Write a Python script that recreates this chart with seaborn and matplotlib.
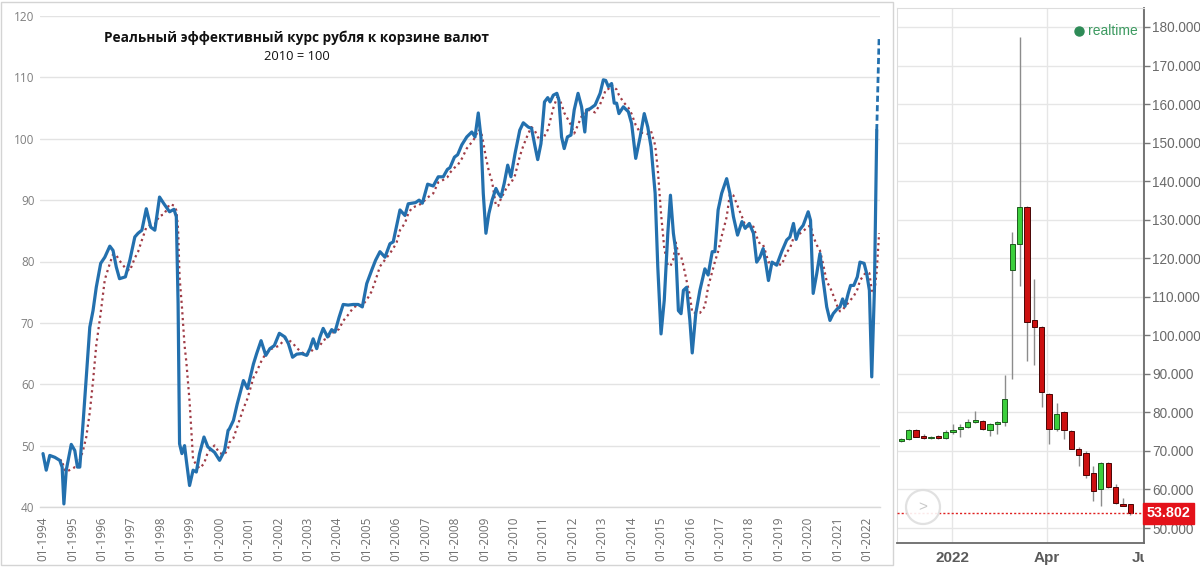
import numpy as np
import pandas as pd
import matplotlib
matplotlib.use("Agg")
import matplotlib.pyplot as plt
import seaborn as sns
from matplotlib.patches import Rectangle, Ellipse
from matplotlib.transforms import Bbox, blended_transform_factory

# ---------------- data: real effective ruble rate (2010 = 100) ----------------
reer_years = [
    1994.00, 1994.11, 1994.23, 1994.40, 1994.57, 1994.65, 1994.71, 1994.79, 1994.96,
    1995.08, 1995.17, 1995.25, 1995.36, 1995.47, 1995.59, 1995.70, 1995.81, 1995.96,
    1996.10, 1996.27, 1996.38, 1996.49, 1996.60, 1996.80, 1996.95,
    1997.12, 1997.23, 1997.36, 1997.51, 1997.66, 1997.80, 1997.96,
    1998.11, 1998.30, 1998.45, 1998.53, 1998.59, 1998.64, 1998.72, 1998.81, 1998.87, 1998.98,
    1999.10, 1999.21, 1999.32, 1999.47, 1999.60, 1999.83,
    2000.00, 2000.17, 2000.29, 2000.33, 2000.47, 2000.60, 2000.81, 2000.95,
    2001.15, 2001.26, 2001.41, 2001.57, 2001.71, 2001.86,
    2002.03, 2002.22, 2002.34, 2002.48, 2002.62, 2002.79, 2002.96,
    2003.07, 2003.18, 2003.30, 2003.41, 2003.52, 2003.67, 2003.81, 2003.92,
    2004.06, 2004.20, 2004.37, 2004.54, 2004.71, 2004.85,
    2005.00, 2005.17, 2005.30, 2005.45, 2005.62, 2005.79, 2005.90,
    2006.02, 2006.13, 2006.30, 2006.41, 2006.53, 2006.66, 2006.78, 2006.89,
    2007.07, 2007.26, 2007.43, 2007.60, 2007.74, 2007.83, 2007.98,
    2008.09, 2008.23, 2008.40, 2008.57, 2008.68, 2008.79, 2008.88, 2008.96,
    2009.05, 2009.15, 2009.26, 2009.39, 2009.47, 2009.56, 2009.67, 2009.79, 2009.90,
    2010.04, 2010.20, 2010.32, 2010.49, 2010.60, 2010.72, 2010.81, 2010.92,
    2011.04, 2011.15, 2011.23, 2011.34, 2011.46, 2011.53, 2011.62, 2011.71, 2011.82, 2011.94,
    2012.05, 2012.18, 2012.30, 2012.41, 2012.47, 2012.59, 2012.76, 2012.93,
    2013.04, 2013.12, 2013.21, 2013.32, 2013.41, 2013.49, 2013.57, 2013.72, 2013.89,
    2014.00, 2014.14, 2014.29, 2014.43, 2014.55, 2014.66, 2014.80, 2014.89,
    2015.00, 2015.11, 2015.23, 2015.32, 2015.42, 2015.50, 2015.59, 2015.68, 2015.76, 2015.87, 2015.98,
    2016.06, 2016.18, 2016.32, 2016.49, 2016.60, 2016.74, 2016.83, 2016.94,
    2017.06, 2017.23, 2017.34, 2017.46, 2017.60, 2017.75, 2017.86,
    2018.00, 2018.14, 2018.25, 2018.36, 2018.47, 2018.56, 2018.65, 2018.77, 2018.93,
    2019.10, 2019.27, 2019.38, 2019.50, 2019.59, 2019.70, 2019.83,
    2020.00, 2020.08, 2020.17, 2020.29, 2020.40, 2020.51, 2020.63, 2020.74, 2020.85, 2020.99,
    2021.08, 2021.17, 2021.25, 2021.36, 2021.44, 2021.55, 2021.67, 2021.76, 2021.90, 2021.99,
    2022.08, 2022.16, 2022.25, 2022.33,
]
reer_values = [
    48.7, 46.0, 48.4, 48.1, 47.6, 46.5, 40.5, 46.0, 50.2,
    49.2, 46.5, 46.5, 53.6, 61.2, 69.3, 72.0, 75.8, 79.7,
    80.7, 82.5, 81.8, 79.1, 77.2, 77.5, 80.2,
    84.0, 84.6, 85.1, 88.6, 85.6, 85.1, 90.5,
    89.4, 88.1, 88.5, 87.3, 73.2, 50.3, 48.7, 50.0, 47.6, 43.5,
    46.0, 45.7, 48.7, 51.4, 49.8, 48.9,
    47.6, 49.2, 52.5, 52.7, 54.1, 56.8, 60.6, 59.3,
    63.3, 65.0, 67.1, 64.7, 65.8, 66.3,
    68.3, 67.7, 66.6, 64.4, 64.9, 65.0, 64.7,
    65.8, 67.4, 65.8, 67.7, 69.1, 67.7, 68.9, 68.5,
    70.9, 73.0, 72.9, 73.0, 73.0, 72.6,
    76.4, 78.6, 80.2, 81.6, 80.7, 82.9, 83.2,
    85.9, 88.4, 87.5, 89.4, 89.5, 89.6, 90.0, 89.5,
    92.6, 92.3, 93.8, 93.8, 95.0, 95.3, 97.0,
    97.4, 99.0, 100.3, 101.1, 100.3, 104.2, 100.3, 91.1,
    84.6, 87.8, 90.0, 91.9, 91.1, 90.5, 92.7, 95.7, 93.8,
    97.6, 101.4, 102.6, 101.9, 101.7, 98.7, 96.6, 99.2,
    106.0, 106.7, 106.0, 107.1, 107.4, 106.3, 100.3, 98.4, 100.3, 100.6,
    104.7, 107.4, 105.2, 101.1, 104.7, 104.9, 105.5, 107.4,
    109.6, 109.5, 108.5, 109.0, 105.8, 105.8, 104.1, 105.2, 104.4,
    102.5, 96.8, 100.3, 104.1, 101.9, 98.7, 91.1, 79.1,
    68.2, 73.7, 84.6, 90.8, 84.6, 81.8, 72.0, 71.5, 75.3, 75.8, 70.4,
    65.1, 71.5, 75.3, 78.8, 77.8, 81.6, 81.6, 88.4,
    91.1, 93.5, 91.1, 87.3, 84.3, 86.5, 85.4,
    86.2, 84.6, 79.9, 80.7, 82.1, 79.7, 76.9, 79.9, 79.4,
    81.6, 83.5, 84.0, 86.2, 83.6, 85.1, 85.9,
    88.1, 86.7, 74.8, 78.0, 81.3, 76.9, 72.6, 70.4, 71.5, 72.3,
    72.6, 73.9, 72.7, 74.8, 76.1, 76.1, 77.5, 79.9, 79.7, 78.0,
    75.3, 61.2, 75.3, 101.4,
]
forecast_years = [2022.33, 2022.41]
forecast_values = [101.4, 116.6]

year_ticks = list(range(1994, 2023))
year_tick_labels = [f"01-{y}" for y in year_ticks]
y_ticks_left = [40, 50, 60, 70, 80, 90, 100, 110, 120]
title_text = "Реальный эффективный курс рубля к корзине валют"
subtitle_text = "2010 = 100"

# ---------------- data: weekly USD/RUB candles ----------------
candle_dates = [
    "2021-11-14", "2021-11-21", "2021-11-28", "2021-12-05", "2021-12-12", "2021-12-19",
    "2021-12-26", "2022-01-02", "2022-01-09", "2022-01-16", "2022-01-23", "2022-01-30",
    "2022-02-06", "2022-02-13", "2022-02-20", "2022-02-27", "2022-03-06", "2022-03-13",
    "2022-03-20", "2022-03-27", "2022-04-03", "2022-04-10", "2022-04-17", "2022-04-24",
    "2022-05-01", "2022-05-08", "2022-05-15", "2022-05-22", "2022-05-29", "2022-06-05",
    "2022-06-12", "2022-06-19",
]
candle_open = [72.5, 73.0, 75.5, 73.9, 73.3, 73.9, 73.4, 75.0, 75.6, 76.3, 77.4, 77.8,
               75.5, 77.0, 77.4, 117.0, 123.8, 133.2, 103.9, 102.2, 84.8, 75.7, 80.0,
               75.2, 70.4, 69.4, 64.2, 60.0, 66.8, 60.7, 56.3, 56.1]
candle_close = [73.2, 75.5, 73.7, 73.3, 73.6, 73.4, 74.8, 75.5, 76.1, 77.4, 77.9, 75.7,
                77.0, 77.4, 83.5, 123.8, 133.2, 103.5, 102.2, 85.2, 75.7, 79.6, 75.5,
                70.6, 68.9, 63.7, 59.6, 66.8, 60.7, 56.5, 55.8, 53.8]
candle_high = [73.4, 75.8, 75.7, 74.3, 73.9, 74.2, 75.3, 77.1, 76.9, 78.3, 80.3, 78.0,
               77.3, 77.8, 89.8, 126.7, 177.4, 133.5, 114.6, 102.4, 85.0, 82.4, 80.4,
               75.4, 71.0, 70.0, 66.0, 67.0, 67.0, 61.3, 57.8, 56.3]
candle_low = [72.3, 72.8, 73.5, 73.1, 73.1, 73.2, 73.2, 74.3, 73.5, 76.0, 77.2, 75.5,
              74.0, 74.5, 76.5, 88.7, 112.8, 93.3, 92.4, 81.3, 71.7, 75.2, 73.0,
              70.4, 66.1, 63.0, 57.0, 55.7, 60.3, 56.3, 55.6, 53.5]
last_price = 53.802
month_tick_dates = ["2022-01-01", "2022-04-01", "2022-07-01"]
month_tick_labels = ["2022", "Apr", "Jul"]
y_ticks_right = list(range(50, 190, 10))

# ---------------- style ----------------
sns.set_style("white")
plt.rcParams["font.family"] = ["Open Sans", "DejaVu Sans"]

W, H = 1200, 567
fig = plt.figure(figsize=(12, 5.67), dpi=100)
fig.patch.set_facecolor("white")

def fx(px):
    return px / W

def fy(py):
    return 1 - py / H

BLUE = "#2370ae"
DOTRED = "#a03c46"

# ---------------- left chart ----------------
ax = fig.add_axes([fx(40), fy(507), fx(880) - fx(40), fy(16) - fy(507)])
x_px_per_year = 29.43
ax.set_xlim(1994 - 3 / x_px_per_year, 1994 + (880 - 43) / x_px_per_year)
ax.set_ylim(40, 120)

df = pd.DataFrame({"year": reer_years, "value": reer_values})
full_t = np.array(reer_years + forecast_years[1:])
full_v = np.array(reer_values + forecast_values[1:])
ma_t, ma_v = [], []
for i, t in enumerate(full_t):
    if t - full_t[0] < 5 / 12:
        continue
    mask = (full_t > t - 0.5) & (full_t <= t + 1e-9)
    ma_t.append(t)
    ma_v.append(full_v[mask].mean())
ma_df = pd.DataFrame({"year": ma_t, "value": ma_v})
fc_df = pd.DataFrame({"year": forecast_years, "value": forecast_values})

sns.lineplot(data=ma_df, x="year", y="value", ax=ax, color=DOTRED, lw=1.6,
             linestyle=(0, (1, 1.6)), sort=False, estimator=None, zorder=3)
sns.lineplot(data=df, x="year", y="value", ax=ax, color=BLUE, lw=2.3,
             sort=False, estimator=None, zorder=4)
sns.lineplot(data=fc_df, x="year", y="value", ax=ax, color=BLUE, lw=2.0,
             linestyle=(0, (2.2, 1.2)), sort=False, estimator=None, zorder=4)

ax.set_xlabel("")
ax.set_ylabel("")
ax.set_yticks(y_ticks_left)
ax.set_yticklabels([str(v) for v in y_ticks_left])
ax.set_xticks(year_ticks)
ax.set_xticklabels(year_tick_labels, rotation=90)
ax.grid(axis="y", color="#e3e3e3", lw=1.0)
ax.grid(axis="x", visible=False)
for s in ["top", "right", "left"]:
    ax.spines[s].set_visible(False)
ax.spines["bottom"].set_color("#d9d9d9")
ax.spines["bottom"].set_linewidth(1.0)
ax.tick_params(axis="y", length=0, pad=4, labelsize=8.5, labelcolor="#7f7f7f")
ax.tick_params(axis="x", length=4, width=0.8, color="#d9d9d9", pad=3,
               labelsize=8.5, labelcolor="#6f6f6f")

fig.text(fx(297), fy(38), title_text, ha="center", va="center",
         fontsize=9.8, fontweight="bold", color="#111111")
fig.text(fx(297), fy(57), subtitle_text, ha="center", va="center",
         fontsize=9.3, color="#111111")

fig.add_artist(Rectangle((fx(1), fy(565)), fx(892), fy(2) - fy(565),
                         transform=fig.transFigure, fill=False,
                         ec="#d4d4d4", lw=1.0))

# ---------------- right chart (candles) ----------------
base = pd.Timestamp("2022-01-01")
px_per_day = 95 / 90.0
ax2 = fig.add_axes([fx(897), fy(543), fx(1144) - fx(897), fy(8) - fy(543)])
ax2.set_xlim((897 - 952) / px_per_day, (1144 - 952) / px_per_day)
ax2.set_ylim(50 - 15 / 3.854, 180 + 19 / 3.854)

cd = pd.DataFrame({
    "day": [(pd.Timestamp(d) - base).days for d in candle_dates],
    "open": candle_open, "close": candle_close,
    "high": candle_high, "low": candle_low,
})
cd["up"] = cd["close"] >= cd["open"]
ax2.vlines(cd["day"], cd["low"], cd["high"], color="#8c8c8c", lw=1.0, zorder=2)
body = (cd["close"] - cd["open"]).abs().clip(lower=0.35)
bottom = cd[["open", "close"]].min(axis=1)
colors = np.where(cd["up"], "#3ccf3c", "#cc1010")
edges = np.where(cd["up"], "#1f5a1f", "#4a0505")
ax2.bar(cd["day"], body, bottom=bottom, width=5.0, color=colors,
        edgecolor=edges, linewidth=0.7, zorder=3)

ax2.axhline(last_price, color="#e02020", ls=(0, (1.5, 1.5)), lw=1.0, zorder=4)

tick_days = [(pd.Timestamp(d) - base).days for d in month_tick_dates]
ax2.set_xticks(tick_days)
ax2.set_xticklabels(month_tick_labels)
ax2.set_yticks(y_ticks_right)
ax2.set_yticklabels([f"{v:.3f}" for v in y_ticks_right])
ax2.yaxis.tick_right()
ax2.grid(True, color="#e6e6e6", lw=1.0)
ax2.set_axisbelow(True)
ax2.tick_params(axis="y", right=True, length=4, width=1, color="#777777",
                pad=2, labelsize=9.8, labelcolor="#6a6a6a")
ax2.tick_params(axis="x", length=4, width=1, color="#777777", pad=2,
                labelsize=11, labelcolor="#5a5a5a")
for lab in ax2.get_xticklabels():
    lab.set_fontfamily(["Liberation Sans", "DejaVu Sans"])
    lab.set_fontweight("bold")
for lab in ax2.get_yticklabels():
    lab.set_fontfamily(["Liberation Sans", "DejaVu Sans"])
ax2.spines["right"].set_color("#6a6a6a")
ax2.spines["right"].set_linewidth(1.3)
ax2.spines["bottom"].set_color("#6a6a6a")
ax2.spines["bottom"].set_linewidth(1.3)
ax2.spines["top"].set_color("#dddddd")
ax2.spines["left"].set_color("#dddddd")

# clip the last month label at the plot edge (as in the screenshot)
fig.canvas.draw()
clip = Bbox.from_extents(0, 0, 1144, H)
for lab in ax2.get_xticklabels():
    lab.set_clip_on(True)
    lab.set_clip_box(clip)

# realtime marker
ax2.plot([(1079 - 897) / 247], [(543 - 31) / 535], "o", color="#2e8b57",
         ms=6.5, transform=ax2.transAxes, clip_on=False, zorder=5)
ax2.text((1088 - 897) / 247, (543 - 31) / 535, "realtime", transform=ax2.transAxes,
         ha="left", va="center", fontsize=10, color="#3c9a60",
         family=["Liberation Sans", "DejaVu Sans"])

# last price label
tr = blended_transform_factory(ax2.transAxes, ax2.transData)
ax2.text(1.012, last_price, f"{last_price:.3f}", transform=tr, ha="left", va="center",
         fontsize=10.3, fontweight="bold", color="white",
         family=["Liberation Sans", "DejaVu Sans"], clip_on=False, zorder=6,
         bbox=dict(boxstyle="square,pad=0.25", fc="#e4121a", ec="#e4121a"))

# scroll button
fig.add_artist(Ellipse((fx(923), fy(507)), 34 / W, 34 / H, transform=fig.transFigure,
                       fill=True, fc="white", ec="#dedede", lw=1.6, alpha=0.9))
fig.text(fx(923), fy(507), ">", ha="center", va="center", fontsize=11,
         color="#c8c8c8", family=["Liberation Sans", "DejaVu Sans"])

fig.savefig("out.png", dpi=100, facecolor="white")
